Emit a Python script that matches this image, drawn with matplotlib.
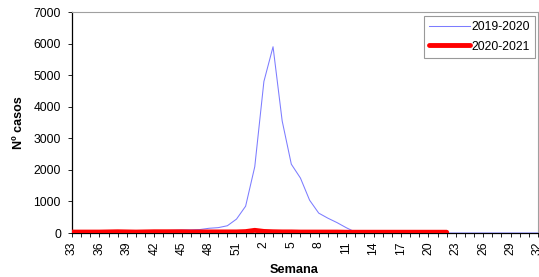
import matplotlib
matplotlib.use('Agg')
import matplotlib.pyplot as plt
import numpy as np

plt.rcParams['font.family'] = ['Liberation Sans', 'DejaVu Sans']

# semanas epidemiológicas 33..52 y 1..32
semanas = list(range(33, 53)) + list(range(1, 33))

casos_1920 = [30, 30, 35, 35, 40, 45, 50, 55, 60, 65, 75, 85, 95, 100, 110, 150, 170, 230, 440, 850,
              2100, 4800, 5900, 3550, 2180, 1740, 1040, 630, 470, 330, 170, 30,
              0, 0, 0, 0, 0, 0, 0, 0, 0, 0, 0, 0, 0, 0, 0, 0, 0, 0, 0, 0]
casos_2021 = [30, 30, 30, 30, 35, 40, 35, 30, 35, 40, 40, 40, 40, 35, 35, 35, 35, 35, 35, 45,
              85, 50, 40, 35, 35, 30, 30, 30, 30, 30, 25, 25,
              25, 25, 25, 25, 25, 25, 25, 25, 25, 25]

fig = plt.figure(figsize=(5.39, 2.77), dpi=100)
ax = fig.add_axes([0.1336, 0.1588, 0.8646, 0.7978])

x1 = np.arange(len(casos_1920))
x2 = np.arange(len(casos_2021))
ax.plot(x1, casos_1920, color='#7c7cff', lw=0.75, label='2019-2020', zorder=3)
ax.plot(x2, casos_2021, color='#ff0000', lw=3.5, label='2020-2021', zorder=4, solid_capstyle='round')

ax.set_xlim(0, len(semanas) - 1)
ax.set_ylim(0, 7000)
ax.set_yticks(range(0, 7001, 1000))
ax.set_xticks(np.arange(0, len(semanas), 3))
ax.set_xticklabels([str(semanas[i]) for i in range(0, len(semanas), 3)], rotation=90)
ax.set_xticks(np.arange(len(semanas)), minor=True)
ax.tick_params(axis='both', which='both', direction='out', length=3, width=0.6, labelsize=8.7)
ax.tick_params(axis='y', pad=5)
ax.tick_params(axis='x', pad=3)

for s in ['top', 'right']:
    ax.spines[s].set_color('#a0a0a0')
    ax.spines[s].set_linewidth(0.8)
for s in ['left', 'bottom']:
    ax.spines[s].set_color('black')
    ax.spines[s].set_linewidth(0.9)

ax.set_ylabel('Nº casos', fontsize=9, fontweight='bold', labelpad=6)
ax.set_xlabel('Semana', fontsize=9.2, fontweight='bold', labelpad=3)
ax.xaxis.set_label_coords(0.476, -0.14)

leg = ax.legend(loc='upper right', fontsize=8.7, frameon=True, fancybox=False,
                edgecolor='#808080', handlelength=3.4, handletextpad=0.1,
                borderpad=0.45, labelspacing=0.6, borderaxespad=0,
                bbox_to_anchor=(0.994, 0.982))
leg.get_frame().set_linewidth(0.8)

fig.savefig('out.png', dpi=100)
